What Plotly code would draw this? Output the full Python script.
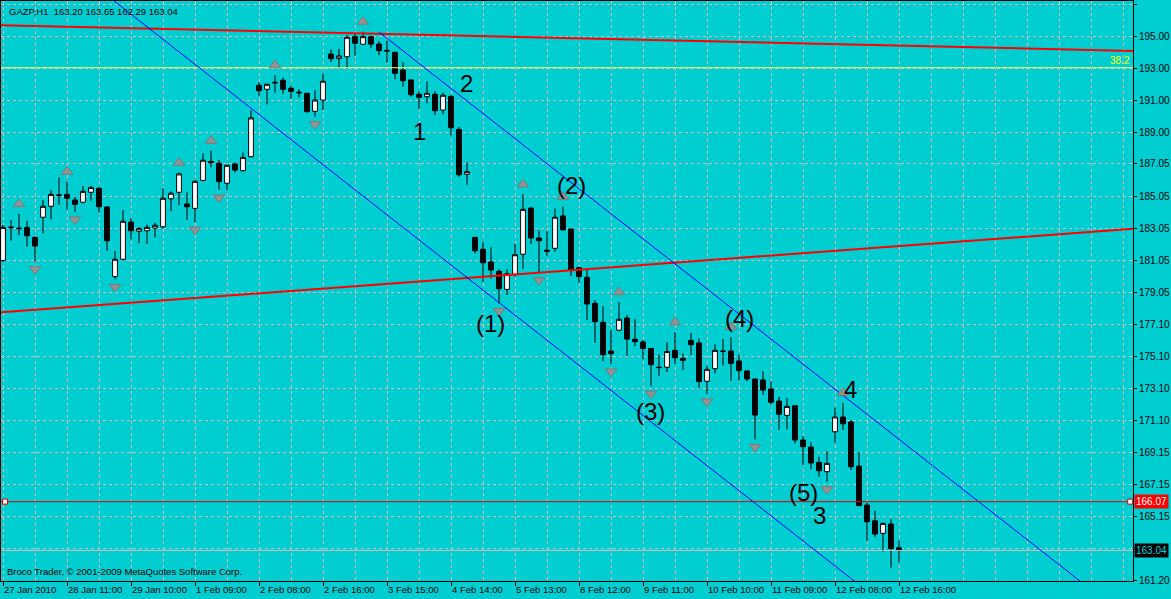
import plotly.graph_objects as go

BG = "#00CED1"
GRID = "#dcb8b8"
FONT = "Liberation Sans, Arial, sans-serif"

# ---------------- data ----------------
symbol = "GAZP,H1"
x_label_bars = [0, 8, 16, 24, 32, 40, 48, 56, 64, 72, 80, 88, 96, 104, 112]
x_labels = ["27 Jan 2010", "28 Jan 11:00", "29 Jan 10:00", "1 Feb 09:00", "2 Feb 08:00",
            "2 Feb 16:00", "3 Feb 15:00", "4 Feb 14:00", "5 Feb 13:00", "8 Feb 12:00",
            "9 Feb 11:00", "10 Feb 10:00", "11 Feb 09:00", "12 Feb 08:00", "12 Feb 16:00"]

opens = [181.06, 183.08, 183.07, 183.11, 182.49, 183.74, 184.42, 185.08, 185.16, 184.81,
         184.67, 185.29, 185.54, 184.38, 180.05, 181.13, 183.44, 182.87, 182.90, 183.07,
         183.15, 184.89, 185.29, 184.56, 184.29, 186.03, 187.21, 187.09, 185.85, 187.05,
         186.63, 187.50, 191.94, 191.69, 192.08, 192.25, 191.75, 191.46, 191.44, 190.32,
         191.02, 193.88, 193.61, 193.71, 194.96, 194.49, 194.96, 194.50, 194.11, 193.99,
         192.89, 192.27, 191.38, 191.23, 191.38, 190.40, 191.25, 189.20, 186.41, 182.49,
         181.75, 180.96, 180.38, 179.26, 180.19, 181.44, 184.31, 182.45, 181.70, 181.81,
         183.82, 183.01, 180.60, 180.01, 178.39, 177.21, 175.43, 176.72, 177.48, 176.16,
         175.99, 175.59, 174.42, 174.42, 175.47, 174.97, 176.09, 175.93, 173.55, 174.33,
         175.40, 175.43, 174.81, 174.19, 173.69, 173.63, 173.07, 172.32, 171.43, 172.03,
         169.90, 169.46, 168.51, 167.93, 170.41, 171.33, 171.02, 168.28, 165.86, 164.88,
         164.10, 164.68, 163.20]
highs = [183.26, 183.57, 183.94, 183.52, 182.55, 184.81, 185.43, 186.20, 185.95, 185.02,
         185.68, 185.70, 185.60, 184.40, 181.64, 184.19, 183.69, 183.13, 183.28, 183.40,
         185.54, 185.35, 186.51, 185.29, 186.05, 187.71, 187.87, 187.30, 187.00, 187.13,
         187.75, 190.40, 192.12, 192.02, 192.56, 192.41, 191.91, 191.69, 191.48, 191.64,
         192.68, 194.17, 194.21, 195.06, 195.17, 195.27, 195.00, 194.67, 194.71, 194.00,
         193.38, 192.28, 191.56, 192.19, 191.58, 191.48, 191.32, 189.35, 187.15, 182.52,
         182.22, 181.87, 180.51, 180.51, 182.08, 185.16, 184.39, 182.90, 182.88, 184.29,
         184.39, 183.03, 180.67, 180.46, 178.60, 178.22, 176.73, 178.47, 177.67, 177.40,
         176.11, 175.60, 175.22, 175.97, 176.60, 175.29, 176.55, 176.22, 174.50, 175.85,
         176.17, 176.30, 175.20, 174.20, 173.70, 174.19, 173.56, 172.59, 172.51, 172.04,
         170.15, 169.77, 168.86, 169.19, 171.91, 172.20, 171.14, 169.15, 166.00, 165.51,
         164.76, 164.99, 163.65]
lows = [180.96, 182.28, 182.62, 181.91, 180.98, 182.74, 183.61, 184.52, 184.23, 184.07,
        184.61, 184.77, 184.02, 181.66, 179.88, 181.04, 182.37, 182.12, 182.08, 182.49,
        183.03, 184.11, 184.48, 183.57, 183.44, 185.99, 186.84, 185.43, 185.43, 186.53,
        186.60, 187.46, 191.29, 190.76, 191.48, 191.40, 191.10, 191.19, 190.24, 189.99,
        190.40, 193.38, 192.99, 192.99, 193.78, 194.44, 194.24, 193.80, 193.34, 192.31,
        191.85, 191.23, 190.48, 190.82, 190.09, 190.14, 188.81, 186.26, 185.76, 181.50,
        179.73, 179.94, 178.39, 178.91, 180.05, 180.51, 182.08, 180.30, 181.33, 181.60,
        182.90, 180.09, 179.67, 177.36, 175.94, 174.81, 174.62, 176.67, 175.12, 175.74,
        174.91, 173.25, 173.87, 174.12, 174.62, 174.25, 175.18, 173.10, 172.76, 174.04,
        174.53, 173.58, 173.58, 173.55, 169.94, 172.71, 172.09, 170.54, 170.56, 169.69,
        168.35, 168.08, 167.62, 167.31, 169.73, 170.52, 168.04, 165.82, 163.64, 163.89,
        162.96, 161.96, 162.29]
closes = [183.11, 183.12, 183.03, 182.59, 181.95, 184.42, 185.16, 185.12, 184.92, 184.54,
          185.35, 185.58, 184.39, 182.28, 181.13, 183.49, 182.90, 183.03, 183.11, 183.24,
          184.92, 185.23, 186.43, 184.39, 185.97, 187.28, 187.13, 185.95, 186.97, 186.67,
          187.46, 189.91, 191.60, 192.00, 192.12, 191.69, 191.56, 191.50, 190.30, 191.02,
          192.19, 193.59, 193.76, 194.92, 194.55, 194.96, 194.50, 194.09, 194.07, 192.68,
          192.22, 191.35, 191.19, 191.44, 190.36, 191.32, 189.30, 186.38, 186.57, 181.66,
          180.91, 180.46, 179.30, 180.23, 181.41, 184.23, 182.45, 182.28, 181.62, 183.74,
          182.96, 180.46, 180.05, 178.35, 177.25, 175.20, 175.26, 177.40, 176.17, 176.01,
          175.59, 174.58, 174.40, 175.40, 175.01, 174.85, 175.82, 173.53, 174.29, 175.47,
          175.42, 174.66, 174.21, 173.69, 171.45, 173.00, 172.24, 171.50, 171.99, 169.90,
          169.48, 168.47, 167.99, 168.45, 171.33, 170.91, 168.24, 165.82, 164.82, 164.06,
          164.72, 163.15, 163.04]

y_ticks = [196.95, 195.00, 193.00, 191.00, 189.00, 187.05, 185.05, 183.05, 181.05, 179.05,
           177.10, 175.10, 173.10, 171.10, 169.15, 167.15, 165.15, 163.15, 161.20]
y_tick_text = ["196.95", "195.00", "193.00", "191.00", "189.00", "187.05", "185.05", "183.05",
               "181.05", "179.05", "177.10", "175.10", "173.10", "171.10", "169.15", "167.15",
               "165.15", "", "161.20"]

fractal_up_bars = [2, 8, 22, 26, 34, 45, 65, 70, 77, 84, 91, 105]
fractal_down_bars = [4, 9, 14, 24, 27, 39, 62, 67, 76, 81, 88, 94, 103]

top_red_x = [-0.375, 141.25]
top_red_y = [195.665, 194.07]
low_red_x = [-0.375, 141.25]
low_red_y = [177.83, 183.02]
upper_channel_x = [47.04, 141.25]
upper_channel_y = [195.23, 158.56]
lower_channel_x = [13.5, 110.0]
lower_channel_y = [197.33, 159.74]

fib_level = 193.03
fib_label = "38.2"
hline_level = 166.07
hline_ends_x = [0.25, 140.9]

wave_labels = ["1", "2", "(1)", "(2)", "(3)", "(4)", "(5)", "3", "4"]
wave_x = [52.0, 57.96, 60.96, 71.0, 80.96, 92.0, 100.0, 102.0, 105.9]
wave_y = [189.05, 192.05, 177.11, 185.70, 171.70, 177.42, 166.62, 165.18, 173.02]

X_RANGE = [-0.25, 141.25]
Y_RANGE = [161.14, 197.175]

# ---------------- figure ----------------
bars = list(range(len(opens)))
fig = go.Figure()

fig.add_trace(go.Candlestick(
    x=bars, open=opens, high=highs, low=lows, close=closes,
    increasing=dict(fillcolor="white", line=dict(color="black", width=1)),
    decreasing=dict(fillcolor="black", line=dict(color="black", width=1)),
    whiskerwidth=0, hoverinfo="skip", showlegend=False))

def line(xs, ys, color, width):
    fig.add_trace(go.Scatter(x=xs, y=ys, mode="lines", line=dict(color=color, width=width),
                             hoverinfo="skip", showlegend=False))

line(X_RANGE, [fib_level, fib_level], "#ffff66", 1)
bid = closes[-1]
line(X_RANGE, [bid, bid], "#c8c8c8", 1)
line(top_red_x, top_red_y, "#ff0000", 2)
line(low_red_x, low_red_y, "#ff0000", 2)
line(upper_channel_x, upper_channel_y, "#0000ff", 1)
line(lower_channel_x, lower_channel_y, "#0000ff", 1)
line(X_RANGE, [hline_level, hline_level], "#e00000", 1)
fig.add_trace(go.Scatter(x=hline_ends_x, y=[hline_level] * 2, mode="markers",
                         marker=dict(symbol="square", size=5, color="white",
                                     line=dict(color="#e00000", width=1)),
                         hoverinfo="skip", showlegend=False))

fig.add_trace(go.Scatter(
    x=fractal_up_bars, y=[highs[i] + 0.62 for i in fractal_up_bars], mode="markers",
    marker=dict(symbol="triangle-up", size=10, color="#939393",
                line=dict(color="#7a7a7a", width=1)),
    hoverinfo="skip", showlegend=False))
fig.add_trace(go.Scatter(
    x=fractal_down_bars, y=[lows[i] - 0.47 for i in fractal_down_bars], mode="markers",
    marker=dict(symbol="triangle-down", size=10, color="#939393",
                line=dict(color="#7a7a7a", width=1)),
    hoverinfo="skip", showlegend=False))

ann = []
for t, xv, yv in zip(wave_labels, wave_x, wave_y):
    ann.append(dict(x=xv, y=yv, xref="x", yref="y", text=t, showarrow=False,
                    font=dict(family=FONT, size=24, color="black"),
                    xanchor="center", yanchor="middle"))

ann.append(dict(x=X_RANGE[1], y=fib_level, xref="x", yref="y", text=fib_label,
                showarrow=False, xanchor="right", yanchor="bottom", xshift=-1, yshift=0,
                font=dict(family=FONT, size=10, color="#ffff00")))
ann.append(dict(x=1, y=hline_level, xref="paper", yref="y", text=f"{hline_level:.2f}",
                showarrow=False, xanchor="left", yanchor="middle", xshift=1,
                bgcolor="#ff0000", borderpad=1, font=dict(family=FONT, size=10, color="white")))
ann.append(dict(x=1, y=bid, xref="paper", yref="y", text=f"{bid:.2f}",
                showarrow=False, xanchor="left", yanchor="middle", xshift=1,
                bgcolor="black", borderpad=1, font=dict(family=FONT, size=10, color=BG)))
ann.append(dict(x=0, y=1, xref="paper", yref="paper", xshift=6, yshift=-3,
                text=f"{symbol}  {opens[-1]:.2f} {highs[-1]:.2f} {lows[-1]:.2f} {closes[-1]:.2f}",
                showarrow=False, xanchor="left", yanchor="top",
                font=dict(family=FONT, size=9.5, color="black")))
ann.append(dict(x=0, y=0, xref="paper", yref="paper", xshift=4, yshift=2,
                text="Broco Trader, © 2001-2009 MetaQuotes Software Corp.",
                showarrow=False, xanchor="left", yanchor="bottom",
                font=dict(family=FONT, size=9.5, color="black")))

fig.update_layout(
    template="none",
    width=1171, height=599,
    margin=dict(l=1, r=38, t=1, b=18),
    paper_bgcolor=BG, plot_bgcolor=BG,
    boxgap=0.4, boxgroupgap=0,
    showlegend=False,
    annotations=ann,
    hovermode=False,
    xaxis=dict(range=X_RANGE, rangeslider=dict(visible=False),
               tickvals=x_label_bars, ticktext=x_labels, ticks="outside", ticklen=4,
               tickcolor="black", ticklabelposition="outside right", tickangle=0,
               tickfont=dict(family=FONT, size=9.5, color="black"),
               showgrid=True, gridcolor=GRID, griddash="3px,3px", gridwidth=1,
               minor=dict(dtick=4, tick0=0, showgrid=True, gridcolor=GRID,
                          griddash="3px,3px", gridwidth=1, ticks=""),
               showline=True, linecolor="black", linewidth=1, mirror=True,
               zeroline=False, fixedrange=True),
    yaxis=dict(range=Y_RANGE, side="right", tickvals=y_ticks, ticktext=y_tick_text,
               ticks="outside", ticklen=3, tickcolor="black",
               tickfont=dict(family=FONT, size=10, color="black"),
               showgrid=True, gridcolor=GRID, griddash="3px,3px", gridwidth=1,
               showline=True, linecolor="black", linewidth=1, mirror=True,
               zeroline=False, fixedrange=True),
)

fig.write_html("out.html", config={"displayModeBar": False},
               post_script="document.body.style.margin='0px';document.body.style.background='"
                           + BG + "';document.body.style.overflow='hidden';")
